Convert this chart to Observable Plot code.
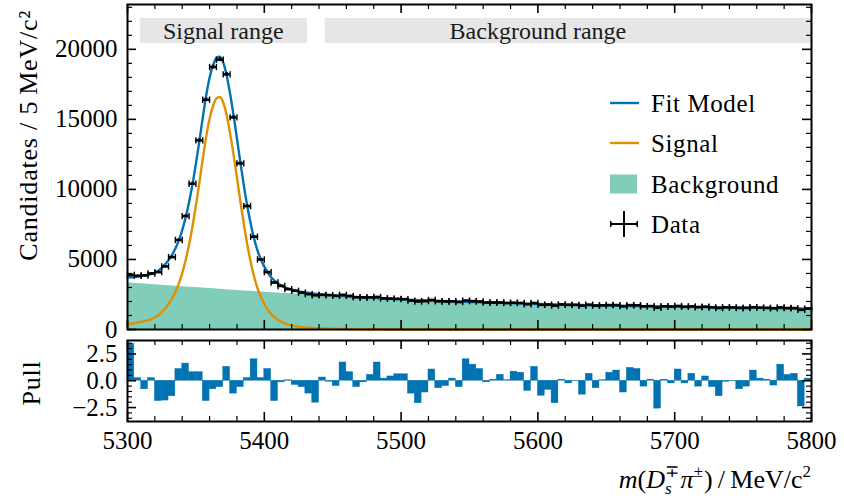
<!DOCTYPE html>
<html>
<head>
<meta charset="utf-8">
<script src="https://cdn.jsdelivr.net/npm/d3@7"></script>
<script src="https://cdn.jsdelivr.net/npm/@observablehq/plot@0.6"></script>
<style>
  body { margin: 0; background: #fff; }
  #wrap { position: relative; width: 844px; height: 501px; font-family: "Liberation Serif", serif; overflow: hidden; }
  #main, #pull { position: absolute; left: 0; }
  #main { top: 0; }
  #pull { top: 334px; }
  #overlay { position: absolute; left: 0; top: 0; pointer-events: none; }
</style>
</head>
<body>
<div id="wrap">
  <div id="main"></div>
  <div id="pull"></div>
  <svg id="overlay" width="844" height="501"></svg>
</div>
<script>
// ---------------- data ----------------
const binCenters = [5302.5,5307.5,5312.5,5317.5,5322.5,5327.5,5332.5,5337.5,5342.5,5347.5,
  5352.5,5357.5,5362.5,5367.5,5372.5,5377.5,5382.5,5387.5,5392.5,5397.5,
  5402.5,5407.5,5412.5,5417.5,5422.5,5427.5,5432.5,5437.5,5442.5,5447.5,
  5452.5,5457.5,5462.5,5467.5,5472.5,5477.5,5482.5,5487.5,5492.5,5497.5,
  5502.5,5507.5,5512.5,5517.5,5522.5,5527.5,5532.5,5537.5,5542.5,5547.5,
  5552.5,5557.5,5562.5,5567.5,5572.5,5577.5,5582.5,5587.5,5592.5,5597.5,
  5602.5,5607.5,5612.5,5617.5,5622.5,5627.5,5632.5,5637.5,5642.5,5647.5,
  5652.5,5657.5,5662.5,5667.5,5672.5,5677.5,5682.5,5687.5,5692.5,5697.5,
  5702.5,5707.5,5712.5,5717.5,5722.5,5727.5,5732.5,5737.5,5742.5,5747.5,
  5752.5,5757.5,5762.5,5767.5,5772.5,5777.5,5782.5,5787.5,5792.5,5797.5];
const binHalfWidth = 2.5;

const dataCounts = [3900,3830,3860,4000,4095,4500,5167,6390,8095,10405,
  13500,16405,18738,19262,18214,15143,11857,8810,6619,5000,
  4095,3350,3110,2880,2760,2630,2520,2440,2470,2450,
  2400,2468,2394,2293,2288,2294,2320,2221,2204,2188,
  2166,2063,2002,2028,2106,2008,2000,2014,1961,2063,
  2027,1996,1926,1922,1927,1890,1910,1891,1805,1888,
  1759,1770,1705,1785,1760,1758,1696,1767,1702,1724,
  1744,1743,1651,1738,1726,1651,1670,1553,1655,1634,
  1678,1619,1647,1592,1622,1575,1533,1580,1574,1537,
  1539,1591,1554,1541,1510,1577,1532,1528,1403,1496];

const pulls = [3.45,0.25,-0.8,0.25,-1.9,-1.85,-1.45,1.1,1.6,0.8,
  0.8,-1.9,-0.8,-0.6,1.3,-1.2,-0.6,0.25,2.0,0.25,
  1.1,-1.9,-0.15,0.05,-0.4,-0.6,-1.2,-2.05,0.3,-0.1,
  -0.5,1.7,0.8,-0.6,-0.15,0.55,1.7,0.2,0.4,0.6,
  0.6,-1.2,-2.1,-1.1,1.05,-0.7,-0.5,0.2,-0.6,2.0,
  1.5,1.1,-0.15,0.1,0.55,0.05,0.85,0.75,-0.95,1.3,
  -1.4,-0.85,-2.1,0.1,-0.25,-0.05,-1.3,0.65,-0.7,0.05,
  0.75,0.95,-1.1,1.2,1.1,-0.55,0.1,-2.6,0.1,-0.25,
  1.05,-0.25,0.65,-0.55,0.4,-0.6,-1.45,-0.1,-0.05,-0.8,
  -0.55,0.95,0.2,0.1,-0.45,1.5,0.55,0.65,-2.4,0.2];

const signalMass = [5300,5302.5,5305,5307.5,5310,5312.5,5315,5317.5,5320,5322.5,
  5325,5327.5,5330,5332.5,5335,5337.5,5340,5342.5,5345,5347.5,
  5350,5352.5,5355,5357.5,5360,5362.5,5365,5367.5,5370,5372.5,
  5375,5377.5,5380,5382.5,5385,5387.5,5390,5392.5,5395,5397.5,
  5400,5402.5,5405,5407.5,5410,5412.5,5415,5417.5,5420,
  5425,5430,5435,5440,5450,5460,5475,5500,5550,5600,5700,5800];
const signalValue = [380,410,450,490,540,600,665,745,860,1020,
  1240,1500,1820,2200,2680,3280,4030,4950,6060,7350,
  8850,10450,12150,13750,15050,15950,16500,16600,16200,15300,
  14000,12500,10850,9150,7550,6100,4850,3780,2960,2320,
  1820,1420,1100,860,680,540,430,350,290,
  200,145,110,85,50,30,15,5,0,0,0,0];

const bkgMass = [5300,5310,5320,5330,5340,5350,5360,5370,5380,5390,5400,5410,5420,5430,5440,5450,
  5460,5470,5480,5490,5500,5520,5540,5560,5580,5600,5620,5640,5660,5680,5700,5720,5740,5760,5780,5800];
const bkgValue = [3340,3270,3200,3130,3060,2990,2920,2856,2792,2728,2666,2606,2550,2495,2440,2390,
  2340,2290,2240,2190,2145,2065,1995,1940,1880,1825,1775,1735,1700,1670,1640,1610,1580,1550,1515,1485];

const fitMass = [5300,5302.5,5305,5307.5,5310,5312.5,5315,5317.5,5320,5322.5,
  5325,5327.5,5330,5332.5,5335,5337.5,5340,5342.5,5345,5347.5,
  5350,5352.5,5355,5357.5,5360,5362.5,5365,5367.5,5370,5372.5,
  5375,5377.5,5380,5382.5,5385,5387.5,5390,5392.5,5395,5397.5,
  5400,5402.5,5405,5407.5,5410,5412.5,5415,5417.5,5420,
  5425,5430,5435,5440,5450,5460,5470,5480,5490,5500,5520,5540,5560,5580,5600,
  5620,5640,5660,5680,5700,5720,5740,5760,5780,5800];
const fitValue = [3720,3733,3755,3778,3810,3853,3900,3963,4060,4203,
  4405,4648,4950,5313,5775,6358,7090,7993,9085,10358,
  11840,13423,15105,16688,17970,18854,19388,19472,19056,18140,
  16824,15308,13642,11926,10310,8844,7578,6492,5657,5001,
  4486,4071,3736,3481,3286,3132,3008,2914,2840,
  2722,2640,2578,2525,2440,2370,2310,2255,2200,2150,2065,1995,1940,1880,1825,
  1775,1735,1700,1670,1640,1610,1580,1550,1515,1485];

const regionLabels = ["Signal range", "Background range"];
const regionStart = [5309.5, 5444.5];
const regionEnd = [5431.5, 5800];
const regionLabelAt = [5370, 5600];

const xMajorTicks = [5300,5400,5500,5600,5700,5800];
const xMinorTicks = [5320,5340,5360,5380,5420,5440,5460,5480,5520,5540,5560,5580,
  5620,5640,5660,5680,5720,5740,5760,5780];
const yMajorTicks = [0,5000,10000,15000,20000];
const yMinorTicks = [1000,2000,3000,4000,6000,7000,8000,9000,11000,12000,13000,14000,
  16000,17000,18000,19000,21000,22000,23000];
const pullMajorTicks = [-2.5,0,2.5];
const pullMinorTicks = [-3.5,-3,-2,-1.5,-1,-0.5,0.5,1,1.5,2,3,3.5];

const legendLabels = ["Fit Model", "Signal", "Background", "Data"];

// ---------------- tables ----------------
const bins = binCenters.map((c, i) => ({c, lo: c - binHalfWidth, hi: c + binHalfWidth, n: dataCounts[i], p: pulls[i]}));
const sigRows = signalMass.map((m, i) => ({m, v: signalValue[i]}));
const bkgRows = bkgMass.map((m, i) => ({m, v: bkgValue[i]}));
const fitRows = fitMass.map((m, i) => ({m, v: fitValue[i]}));
const regions = regionLabels.map((label, i) => ({label, start: regionStart[i], end: regionEnd[i], at: regionLabelAt[i]}));

const BLUE = "#0173B2", ORANGE = "#DE8F05", TEAL = "#029E73";
const FONT = "'Liberation Serif', serif";
const W = 844, mL = 127, mR = 33;
const innerW = W - mL - mR;
const MAJ = 9, MIN = 5;

const capSymbol = {draw(ctx, size) { const h = Math.sqrt(size / Math.PI); ctx.moveTo(0, -h); ctx.lineTo(0, h); }};

function frameTicks(xMaj, xMin, yMaj, yMin, innerH) {
  const s = {stroke: "black"};
  return [
    Plot.tickX(xMaj, {x: d => d, insetTop: innerH - MAJ, strokeWidth: 1.6, ...s}),
    Plot.tickX(xMaj, {x: d => d, insetBottom: innerH - MAJ, strokeWidth: 1.6, ...s}),
    Plot.tickX(xMin, {x: d => d, insetTop: innerH - MIN, strokeWidth: 1.2, ...s}),
    Plot.tickX(xMin, {x: d => d, insetBottom: innerH - MIN, strokeWidth: 1.2, ...s}),
    Plot.tickY(yMaj, {y: d => d, insetRight: innerW - MAJ, strokeWidth: 1.6, ...s}),
    Plot.tickY(yMaj, {y: d => d, insetLeft: innerW - MAJ, strokeWidth: 1.6, ...s}),
    Plot.tickY(yMin, {y: d => d, insetRight: innerW - MIN, strokeWidth: 1.2, ...s}),
    Plot.tickY(yMin, {y: d => d, insetLeft: innerW - MIN, strokeWidth: 1.2, ...s}),
    Plot.frame({stroke: "black", strokeWidth: 2})
  ];
}

// ---------------- main panel ----------------
const mainTop = 4, mainBottom = 5, mainH = 334;
const mainInnerH = mainH - mainTop - mainBottom;
const mainPlot = Plot.plot({
  width: W, height: mainH,
  marginLeft: mL, marginRight: mR, marginTop: mainTop, marginBottom: mainBottom,
  style: {fontFamily: FONT, fontSize: "25px", background: "transparent", overflow: "visible", color: "black"},
  x: {domain: [5300, 5800], axis: null},
  y: {domain: [0, 23200]},
  marks: [
    Plot.barX(regions, {x1: "start", x2: "end", fill: "#e6e6e6", insetTop: 14, insetBottom: mainInnerH - 39}),
    Plot.text(regions, {x: "at", text: "label", frameAnchor: "top", dy: 17, fontSize: 24, fill: "#1a1a1a"}),
    Plot.areaY(bkgRows, {x: "m", y: "v", fill: TEAL, fillOpacity: 0.5, curve: "monotone-x"}),
    Plot.line(sigRows, {x: "m", y: "v", stroke: ORANGE, strokeWidth: 2.4, curve: "monotone-x"}),
    Plot.line(fitRows, {x: "m", y: "v", stroke: BLUE, strokeWidth: 2.4, curve: "monotone-x"}),
    Plot.ruleY(bins, {y: "n", x1: "lo", x2: "hi", stroke: "black", strokeWidth: 2.6}),
    Plot.ruleX(bins, {x: "c", y1: d => d.n - Math.sqrt(d.n), y2: d => d.n + Math.sqrt(d.n), stroke: "black", strokeWidth: 2.2}),
    Plot.dot(bins, {x: "lo", y: "n", symbol: capSymbol, r: 3.2, stroke: "black", strokeWidth: 1.4}),
    Plot.dot(bins, {x: "hi", y: "n", symbol: capSymbol, r: 3.2, stroke: "black", strokeWidth: 1.4}),
    ...frameTicks(xMajorTicks, xMinorTicks, yMajorTicks, yMinorTicks, mainInnerH),
    Plot.axisY(yMajorTicks, {tickSize: 0, tickPadding: 10, tickFormat: d => String(d), label: null, fontSize: 25})
  ]
});
document.getElementById("main").append(mainPlot);

// ---------------- pull panel ----------------
const pullTop = 6, pullH = 167, pullInnerH = 81;
const pullBottom = pullH - pullTop - pullInnerH;
const pullPlot = Plot.plot({
  width: W, height: pullH,
  marginLeft: mL, marginRight: mR, marginTop: pullTop, marginBottom: pullBottom,
  style: {fontFamily: FONT, fontSize: "25px", background: "transparent", overflow: "visible", color: "black"},
  x: {domain: [5300, 5800]},
  y: {domain: [-3.8, 3.75]},
  marks: [
    Plot.rectY(bins, {x1: "lo", x2: "hi", y: "p", fill: BLUE, stroke: BLUE, strokeWidth: 0.4}),
    ...frameTicks(xMajorTicks, xMinorTicks, pullMajorTicks, pullMinorTicks, pullInnerH),
    Plot.axisY(pullMajorTicks, {tickSize: 0, tickPadding: 10, tickFormat: d => d.toFixed(1).replace("-", "\u2212"), label: null, fontSize: 25}),
    Plot.axisX(xMajorTicks, {tickSize: 0, tickPadding: 10, tickFormat: d => String(d), label: null, fontSize: 25})
  ]
});
document.getElementById("pull").append(pullPlot);

// ---------------- labels and legend ----------------
const ov = d3.select("#overlay").attr("font-family", FONT).attr("font-size", 25);

ov.append("text")
  .attr("transform", "translate(37,10) rotate(-90)")
  .attr("text-anchor", "end").attr("font-size", 26).attr("letter-spacing", 0.8)
  .text("Candidates / 5\u2009MeV/c\u00B2");

ov.append("text")
  .attr("transform", "translate(40,383) rotate(-90)")
  .attr("text-anchor", "middle").attr("font-size", 26).attr("letter-spacing", 0.8)
  .text("Pull");

// x-axis label with sub/superscripts
const xl = ov.append("text").attr("x", 811).attr("y", 488).attr("text-anchor", "end").attr("font-size", 26);
const parts = [
  {t: "m", it: true},
  {t: "("},
  {t: "D", it: true},
  {t: "s", it: true, fs: 17, dy: 6},
  {t: "\u2213", fs: 17, dx: -7, dy: -17},
  {t: "\u03C0", it: true, dy: 11, dx: 2},
  {t: "\u00B1", fs: 17, dy: -11},
  {t: ")", dy: 11, dx: 1},
  {t: "\u2009/\u2009MeV/c"},
  {t: "2", fs: 17, dy: -11}
];
for (const p of parts) {
  const ts = xl.append("tspan").text(p.t);
  if (p.it) ts.attr("font-style", "italic");
  if (p.fs) ts.attr("font-size", p.fs);
  if (p.dy) ts.attr("dy", p.dy);
  if (p.dx) ts.attr("dx", p.dx);
}

// legend
const lgX = 610, lgTextX = 651, lgY = [103, 143, 184, 224];
const lg = ov.append("g");
lg.append("line").attr("x1", lgX).attr("x2", lgX + 29).attr("y1", lgY[0]).attr("y2", lgY[0]).attr("stroke", BLUE).attr("stroke-width", 2.4);
lg.append("line").attr("x1", lgX).attr("x2", lgX + 29).attr("y1", lgY[1]).attr("y2", lgY[1]).attr("stroke", ORANGE).attr("stroke-width", 2.4);
lg.append("rect").attr("x", lgX).attr("y", lgY[2] - 9.5).attr("width", 27).attr("height", 19).attr("fill", TEAL).attr("fill-opacity", 0.5);
lg.append("line").attr("x1", lgX).attr("x2", lgX + 28).attr("y1", lgY[3]).attr("y2", lgY[3]).attr("stroke", "black").attr("stroke-width", 2);
lg.append("line").attr("x1", lgX + 14).attr("x2", lgX + 14).attr("y1", lgY[3] - 13).attr("y2", lgY[3] + 13).attr("stroke", "black").attr("stroke-width", 2);
lg.append("line").attr("x1", lgX + 0.8).attr("x2", lgX + 0.8).attr("y1", lgY[3] - 3).attr("y2", lgY[3] + 3).attr("stroke", "black").attr("stroke-width", 1.5);
lg.append("line").attr("x1", lgX + 27.2).attr("x2", lgX + 27.2).attr("y1", lgY[3] - 3).attr("y2", lgY[3] + 3).attr("stroke", "black").attr("stroke-width", 1.5);
legendLabels.forEach((t, i) => {
  lg.append("text").attr("x", lgTextX).attr("y", lgY[i]).attr("dy", "0.35em").attr("letter-spacing", 0.6).text(t);
});
</script>
</body>
</html>
